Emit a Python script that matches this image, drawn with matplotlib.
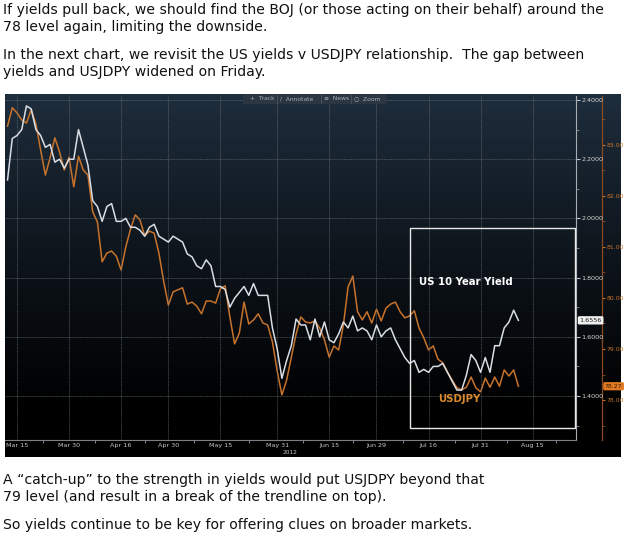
import numpy as np
import pandas as pd
import matplotlib
matplotlib.use("Agg")
import matplotlib.pyplot as plt
import matplotlib.transforms as mtrans
from matplotlib.patches import Rectangle
from matplotlib.ticker import FuncFormatter, FixedLocator

# ---------------- data ----------------
dates = pd.bdate_range("2012-03-13", "2012-08-10")

us10y = [2.13, 2.27, 2.28, 2.30, 2.38, 2.37, 2.30, 2.28, 2.24, 2.25,
         2.19, 2.20, 2.17, 2.20, 2.20, 2.30, 2.24, 2.18, 2.06, 2.04,
         1.99, 2.04, 2.05, 1.99, 1.99, 2.00, 1.97, 1.97, 1.96, 1.94,
         1.97, 1.98, 1.94, 1.93, 1.92, 1.94, 1.93, 1.92, 1.88, 1.87,
         1.84, 1.83, 1.86, 1.84, 1.77, 1.77, 1.76, 1.70, 1.73, 1.75,
         1.77, 1.74, 1.78, 1.74, 1.74, 1.74, 1.63, 1.56, 1.46, 1.52,
         1.57, 1.66, 1.64, 1.64, 1.59, 1.66, 1.60, 1.65, 1.59, 1.58,
         1.61, 1.65, 1.63, 1.67, 1.62, 1.63, 1.62, 1.59, 1.64, 1.60,
         1.62, 1.63, 1.59, 1.56, 1.53, 1.51, 1.52, 1.48, 1.49, 1.48,
         1.50, 1.50, 1.51, 1.48, 1.45, 1.42, 1.42, 1.47, 1.54, 1.52,
         1.48, 1.53, 1.48, 1.57, 1.57, 1.63, 1.65, 1.69, 1.6556]

usdjpy = [83.37, 83.73, 83.63, 83.49, 83.43, 83.69, 83.41, 82.90, 82.41, 82.75,
          83.14, 82.86, 82.51, 82.76, 82.18, 82.78, 82.51, 82.41, 81.69, 81.49,
          80.71, 80.88, 80.92, 80.82, 80.55, 81.00, 81.35, 81.63, 81.53, 81.22,
          81.31, 81.27, 80.88, 80.33, 79.86, 80.12, 80.16, 80.20, 79.88, 79.92,
          79.84, 79.69, 79.94, 79.94, 79.90, 80.18, 80.24, 79.63, 79.10, 79.31,
          79.92, 79.49, 79.57, 79.69, 79.51, 79.47, 79.14, 78.57, 78.10, 78.39,
          78.84, 79.29, 79.63, 79.53, 79.51, 79.55, 79.41, 79.18, 78.84, 79.06,
          78.98, 79.47, 80.22, 80.43, 79.73, 79.57, 79.73, 79.51, 79.78, 79.55,
          79.80, 79.88, 79.92, 79.73, 79.61, 79.65, 79.75, 79.41, 79.22, 78.98,
          79.06, 78.80, 78.73, 78.55, 78.39, 78.24, 78.20, 78.25, 78.45, 78.24,
          78.16, 78.43, 78.25, 78.45, 78.27, 78.59, 78.47, 78.59, 78.27]

tick_dates = ["2012-03-15", "2012-03-30", "2012-04-16", "2012-04-30", "2012-05-15",
              "2012-05-31", "2012-06-15", "2012-06-29", "2012-07-16", "2012-07-31",
              "2012-08-15"]
tick_labels = ["Mar 15", "Mar 30", "Apr 16", "Apr 30", "May 15", "May 31",
               "Jun 15", "Jun 29", "Jul 16", "Jul 31", "Aug 15"]
yield_ticks = [1.4, 1.6, 1.8, 2.0, 2.2, 2.4]
jpy_ticks = [78, 79, 80, 81, 82, 83]

para_top = ["If yields pull back, we should find the BOJ (or those acting on their behalf) around the",
            "78 level again, limiting the downside.",
            "In the next chart, we revisit the US yields v USDJPY relationship.  The gap between",
            "yields and USJDPY widened on Friday."]
para_top_y = [10, 27, 55, 72]
para_bottom = ["A \u201ccatch-up\u201d to the strength in yields would put USJDPY beyond that",
               "79 level (and result in a break of the trendline on top).",
               "So yields continue to be key for offering clues on broader markets."]
para_bottom_y = [480, 497, 525]

# ---------------- figure ----------------
W, H = 625, 538
fig = plt.figure(figsize=(W / 100, H / 100), dpi=100)
fig.patch.set_facecolor("white")

def fx(px):
    return px / W

def fy(py):
    return 1 - py / H

for line, yy in zip(para_top, para_top_y):
    fig.text(fx(3), fy(yy), line, fontsize=10.1, family="DejaVu Sans",
             va="center", ha="left", color="#111111")
for line, yy in zip(para_bottom, para_bottom_y):
    fig.text(fx(3), fy(yy), line, fontsize=10.1, family="DejaVu Sans",
             va="center", ha="left", color="#111111")

# dark panel background with gradient
bg = fig.add_axes([fx(5), fy(457), fx(621 - 5), (457 - 94) / H])
grad = np.linspace(0, 1, 256).reshape(-1, 1)
top_c = np.array([0.12, 0.18, 0.24])
bot_c = np.array([0.0, 0.0, 0.0])
t = np.clip(grad * 1.15, 0, 1) ** 0.9
img = top_c[None, None, :] * (1 - t[:, :, None]) + bot_c[None, None, :] * t[:, :, None]
bg.imshow(img, aspect="auto", extent=[0, 1, 0, 1], origin="upper")
bg.set_xlim(0, 1)
bg.set_ylim(0, 1)
bg.axis("off")

# main axes
x = np.arange(len(dates))
all_days = pd.bdate_range("2012-03-13", "2012-08-20")
tick_pos = [int(all_days.get_loc(pd.Timestamp(d))) for d in tick_dates]

ax = fig.add_axes([fx(5), fy(440), fx(576 - 5), (440 - 96) / H])
ax.set_facecolor("none")
ax.set_xlim(-0.537, 120.18)
ax.set_ylim(1.2514, 2.4135)
ax2 = ax.twinx()
ax2.set_ylim(77.216, 83.96)

ax2.plot(x, usdjpy, color="#c8732c", lw=1.1, zorder=3)
ax.plot(x, us10y, color="#d9dee6", lw=1.1, zorder=4)
ax.set_zorder(ax2.get_zorder() + 1)

for a in (ax, ax2):
    for s in ("left", "top"):
        a.spines[s].set_visible(False)
ax.spines["bottom"].set_color("#7a7f86")
ax.spines["bottom"].set_linewidth(0.8)
ax2.spines["bottom"].set_visible(False)

# yield axis on right
ax.yaxis.tick_right()
ax.spines["right"].set_color("#a8adb4")
ax.spines["right"].set_linewidth(0.8)
ax.yaxis.set_major_locator(FixedLocator(yield_ticks))
ax.yaxis.set_minor_locator(FixedLocator([v + 0.1 for v in [1.2] + yield_ticks[:-1]]))
ax.yaxis.set_major_formatter(FuncFormatter(lambda v, p: f"{v:.4f}"))
ax.tick_params(axis="y", which="major", direction="out", length=3, width=0.8,
               color="#c0c4ca", labelsize=4.6, labelcolor="#d8d8d8", pad=1)
ax.tick_params(axis="y", which="minor", direction="out", length=2, width=0.6,
               color="#8a8f96")

# jpy axis (26 px outward)
ax2.spines["right"].set_position(("outward", 26 * 72 / 100))
ax2.spines["right"].set_color("#8a4a22")
ax2.spines["right"].set_linewidth(0.9)
ax2.yaxis.set_major_locator(FixedLocator(jpy_ticks))
ax2.yaxis.set_minor_locator(FixedLocator([v + 0.5 for v in [77] + jpy_ticks]))
ax2.yaxis.set_major_formatter(FuncFormatter(lambda v, p: f"{v:.2f}"))
ax2.tick_params(axis="y", which="major", direction="out", length=2.5, width=0.8,
                color="#c8732c", labelsize=4.4, labelcolor="#c8732c", pad=0.8)
ax2.tick_params(axis="y", which="minor", direction="out", length=2, width=0.6,
                color="#8a4a22")

# x axis
ax.set_xticks(tick_pos)
ax.set_xticklabels(tick_labels)
mids = [(tick_pos[i] + tick_pos[i + 1]) / 2 for i in range(len(tick_pos) - 1)]
ax.set_xticks(mids + [tick_pos[-1] + 5], minor=True)
ax.tick_params(axis="x", which="major", length=0, labelsize=4.6,
               labelcolor="#c8c8c8", pad=2)
ax.tick_params(axis="x", which="minor", length=2, width=0.6, color="#9a9ea4",
               direction="out")

# grid
ax.grid(True, which="major", axis="both", color="#6c7680", lw=0.5,
        linestyle=(0, (1.5, 1.0)), alpha=0.8)
ax.set_axisbelow(True)

fig.text(fx(290), fy(453), "2012", fontsize=4.2, color="#c8c8c8",
         ha="center", va="center")

# last-value labels
tr1 = mtrans.blended_transform_factory(ax.transAxes, ax.transData)
ax.text(1.006, us10y[-1], f"{us10y[-1]:.4f}", transform=tr1, fontsize=4.6,
        color="#1a1a1a", ha="left", va="center", zorder=10, clip_on=False,
        bbox=dict(boxstyle="round,pad=0.15", fc="#f2f2f2", ec="#f2f2f2"))
tr2 = mtrans.blended_transform_factory(ax2.transAxes, ax2.transData)
ax2.text(1.0505, usdjpy[-1], f"{usdjpy[-1]:.2f}", transform=tr2, fontsize=4.4,
         color="#3a1a00", ha="left", va="center", zorder=10, clip_on=False,
         bbox=dict(boxstyle="round,pad=0.15", fc="#e07a22", ec="#e07a22"))

# annotation box and labels
fig.add_artist(Rectangle((fx(410), fy(428)), fx(575 - 410), (428 - 228) / H,
                         transform=fig.transFigure, fill=False,
                         ec="#e8e8e8", lw=1.0, zorder=20))
fig.text(fx(419), fy(282), "US 10 Year Yield", fontsize=7.3, fontweight="bold",
         color="white", ha="left", va="center", zorder=21)
fig.text(fx(438), fy(399), "USDJPY", fontsize=7.3, fontweight="bold",
         color="#d98a2c", ha="left", va="center", zorder=21)

# toolbar
fig.add_artist(Rectangle((fx(243), fy(104)), fx(143), 10 / H,
                         transform=fig.transFigure, fc="#2c3642", ec="none",
                         zorder=20))
for px_, lab in [(250, "+  Track"), (280, "/  Annotate"), (324, "\u2261  News"),
                 (354, "\u25cb  Zoom")]:
    fig.text(fx(px_), fy(99), lab, fontsize=4.3, color="#a9b0b8", ha="left",
             va="center", zorder=21)
for px_ in (277, 321, 351):
    fig.add_artist(Rectangle((fx(px_), fy(103.5)), fx(0.8), 9 / H,
                             transform=fig.transFigure, fc="#46515c", ec="none",
                             zorder=21))

fig.savefig("out.png", dpi=100, facecolor="white")
